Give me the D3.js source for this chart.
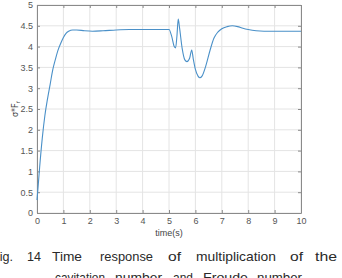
<!DOCTYPE html>
<html>
<head>
<meta charset="utf-8">
<script src="https://cdn.jsdelivr.net/npm/d3@7"></script>
<style>
html,body{margin:0;padding:0;background:#fff;overflow:hidden;}
svg{display:block;}
</style>
</head>
<body>
<svg id="chart" width="342" height="278"></svg>
<script>
// ---- data ----
const time = [0, 0.05, 0.1, 0.2, 0.3, 0.4, 0.5, 0.6, 0.7, 0.8, 0.9, 1.0, 1.1, 1.2, 1.35, 1.5, 1.8, 2.1, 2.5, 3, 3.5, 4, 4.5, 5.0, 5.1, 5.2, 5.25, 5.3, 5.35, 5.4, 5.5, 5.6, 5.68, 5.78, 5.86, 5.92, 6.0, 6.1, 6.17, 6.25, 6.4, 6.55, 6.7, 6.85, 7.0, 7.2, 7.4, 7.6, 7.8, 8.0, 8.3, 8.6, 9, 9.5, 10];
const sigmaFr = [0.31, 0.7, 1.1, 1.8, 2.35, 2.75, 3.1, 3.45, 3.7, 3.92, 4.08, 4.22, 4.32, 4.37, 4.40, 4.40, 4.38, 4.37, 4.38, 4.40, 4.41, 4.41, 4.41, 4.41, 4.25, 4.0, 3.97, 4.25, 4.66, 4.45, 3.95, 3.68, 3.64, 3.72, 3.92, 3.7, 3.45, 3.29, 3.25, 3.29, 3.55, 3.9, 4.2, 4.35, 4.43, 4.48, 4.50, 4.48, 4.44, 4.41, 4.38, 4.37, 4.37, 4.37, 4.37];
const xTicks = [0, 1, 2, 3, 4, 5, 6, 7, 8, 9, 10];
const yTicks = [0, 0.5, 1, 1.5, 2, 2.5, 3, 3.5, 4, 4.5, 5];
const xLabel = "time(s)";
const captionWords1 = ["Fig.", "14", "Time", "response", "of", "multiplication", "of", "the"];
const captionWords2 = ["cavitation", "number", "and", "Froude", "number."];

// ---- layout (word extents in the justified caption) ----
const captionBox1 = [[-8, 21], [27, 14], [52, 30], [100, 53], [168, 13], [196, 80], [290, 13], [315, 22]];
const captionBox2 = [[55, 50], [115, 47], [173, 20], [203, 45], [257, 48]];

const L = 37, R = 301, T = 5, B = 213;
const svg = d3.select("#chart");
const x = d3.scaleLinear().domain([0, 10]).range([L, R]);
const y = d3.scaleLinear().domain([0, 5]).range([B, T]);

// grid
svg.append("g").selectAll("line.gx").data(xTicks).join("line")
  .attr("x1", d => x(d)).attr("x2", d => x(d)).attr("y1", T).attr("y2", B)
  .attr("stroke", "#e4e4e4").attr("stroke-width", 1);
svg.append("g").selectAll("line.gy").data(yTicks).join("line")
  .attr("x1", L).attr("x2", R).attr("y1", d => y(d)).attr("y2", d => y(d))
  .attr("stroke", "#e4e4e4").attr("stroke-width", 1);

// axes with inward ticks
const axStyle = g => {
  g.select(".domain").attr("stroke", "#8a8a8a");
  g.selectAll(".tick line").attr("stroke", "#8a8a8a");
  g.selectAll(".tick text").attr("fill", "#555").attr("font-size", "9px")
    .attr("font-family", "Liberation Sans, Arial, sans-serif");
};
svg.append("g").attr("transform", `translate(0,${B})`)
  .call(d3.axisBottom(x).tickValues(xTicks).tickFormat(d3.format("d")).tickSizeInner(-3).tickSizeOuter(0).tickPadding(5))
  .call(axStyle);
svg.append("g").attr("transform", `translate(${L},0)`)
  .call(d3.axisLeft(y).tickValues(yTicks).tickFormat(d => String(d)).tickSizeInner(-3).tickSizeOuter(0).tickPadding(4))
  .call(axStyle);
svg.append("g").attr("transform", `translate(0,${T})`)
  .call(d3.axisTop(x).tickValues(xTicks).tickFormat("").tickSizeInner(-3).tickSizeOuter(0))
  .call(axStyle);
svg.append("g").attr("transform", `translate(${R},0)`)
  .call(d3.axisRight(y).tickValues(yTicks).tickFormat("").tickSizeInner(-3).tickSizeOuter(0))
  .call(axStyle);

// line
const pts = time.map((t, i) => [t, sigmaFr[i]]);
svg.append("path").datum(pts)
  .attr("fill", "none").attr("stroke", "#4a90c8").attr("stroke-width", 1.1)
  .attr("d", d3.line().x(d => x(d[0])).y(d => y(d[1])).curve(d3.curveMonotoneX));

// axis labels
svg.append("text").attr("x", (L + R) / 2).attr("y", 236).attr("text-anchor", "middle")
  .attr("font-size", "9px").attr("fill", "#444").attr("font-family", "Liberation Sans, Arial, sans-serif")
  .text(xLabel);
const yl = svg.append("text").attr("transform", `translate(18,${(T + B) / 2}) rotate(-90)`)
  .attr("text-anchor", "middle").attr("font-size", "8px").attr("fill", "#444")
  .attr("font-family", "DejaVu Sans, sans-serif");
yl.append("tspan").text("σ*F");
yl.append("tspan").attr("font-size", "6px").attr("dy", 1.5).text("r");

// caption
const cap = svg.append("g").attr("font-family", "Liberation Sans, Arial, sans-serif")
  .attr("font-size", "13.5px").attr("fill", "#2a2a2a");
cap.selectAll("text.l1").data(captionWords1).join("text")
  .attr("x", (d, i) => captionBox1[i][0]).attr("y", 261)
  .attr("textLength", (d, i) => captionBox1[i][1]).attr("lengthAdjust", "spacingAndGlyphs")
  .text(d => d);
cap.selectAll("text.l2").data(captionWords2).join("text")
  .attr("x", (d, i) => captionBox2[i][0]).attr("y", 281.5)
  .attr("textLength", (d, i) => captionBox2[i][1]).attr("lengthAdjust", "spacingAndGlyphs")
  .text(d => d);
</script>
</body>
</html>
